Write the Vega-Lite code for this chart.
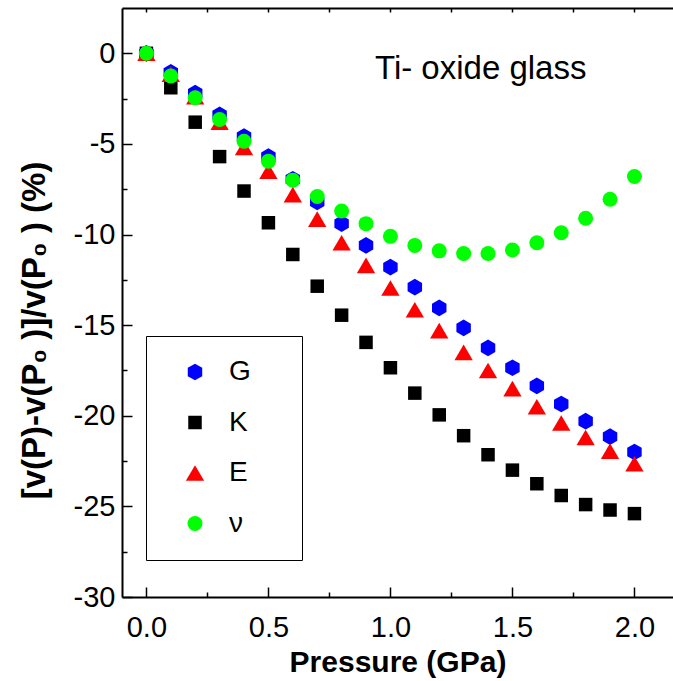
{
  "$schema": "https://vega.github.io/schema/vega-lite/v6.json",
  "autosize": "none",
  "width": 551,
  "height": 589,
  "padding": {"left": 122, "top": 8, "right": 0, "bottom": 84},
  "background": "white",
  "config": {
    "view": {"stroke": null},
    "font": "Liberation Sans",
    "axis": {
      "domainColor": "black",
      "domainWidth": 2,
      "tickColor": "black",
      "tickWidth": 1.5,
      "labelColor": "black",
      "labelFont": "Liberation Sans",
      "labelFontSize": 29,
      "titleColor": "black",
      "titleFont": "Liberation Sans",
      "titleFontSize": 30,
      "titleFontWeight": "bold",
      "grid": false
    }
  },
  "data": {
    "values": [
      {"p": 0.0, "v": 0.0, "s": "K"}, {"p": 0.1, "v": -1.9, "s": "K"}, {"p": 0.2, "v": -3.8, "s": "K"},
      {"p": 0.3, "v": -5.7, "s": "K"}, {"p": 0.4, "v": -7.6, "s": "K"}, {"p": 0.5, "v": -9.35, "s": "K"},
      {"p": 0.6, "v": -11.1, "s": "K"}, {"p": 0.7, "v": -12.85, "s": "K"}, {"p": 0.8, "v": -14.45, "s": "K"},
      {"p": 0.9, "v": -15.95, "s": "K"}, {"p": 1.0, "v": -17.35, "s": "K"}, {"p": 1.1, "v": -18.75, "s": "K"},
      {"p": 1.2, "v": -19.95, "s": "K"}, {"p": 1.3, "v": -21.1, "s": "K"}, {"p": 1.4, "v": -22.15, "s": "K"},
      {"p": 1.5, "v": -23.0, "s": "K"}, {"p": 1.6, "v": -23.75, "s": "K"}, {"p": 1.7, "v": -24.4, "s": "K"},
      {"p": 1.8, "v": -24.9, "s": "K"}, {"p": 1.9, "v": -25.2, "s": "K"}, {"p": 2.0, "v": -25.4, "s": "K"},
      {"p": 0.0, "v": 0.0, "s": "G"}, {"p": 0.1, "v": -1.05, "s": "G"}, {"p": 0.2, "v": -2.2, "s": "G"},
      {"p": 0.3, "v": -3.4, "s": "G"}, {"p": 0.4, "v": -4.6, "s": "G"}, {"p": 0.5, "v": -5.7, "s": "G"},
      {"p": 0.6, "v": -6.95, "s": "G"}, {"p": 0.7, "v": -8.2, "s": "G"}, {"p": 0.8, "v": -9.4, "s": "G"},
      {"p": 0.9, "v": -10.6, "s": "G"}, {"p": 1.0, "v": -11.8, "s": "G"}, {"p": 1.1, "v": -12.9, "s": "G"},
      {"p": 1.2, "v": -14.05, "s": "G"}, {"p": 1.3, "v": -15.15, "s": "G"}, {"p": 1.4, "v": -16.25, "s": "G"},
      {"p": 1.5, "v": -17.35, "s": "G"}, {"p": 1.6, "v": -18.35, "s": "G"}, {"p": 1.7, "v": -19.35, "s": "G"},
      {"p": 1.8, "v": -20.3, "s": "G"}, {"p": 1.9, "v": -21.15, "s": "G"}, {"p": 2.0, "v": -22.0, "s": "G"},
      {"p": 0.0, "v": 0.0, "s": "E"}, {"p": 0.1, "v": -1.15, "s": "E"}, {"p": 0.2, "v": -2.4, "s": "E"},
      {"p": 0.3, "v": -3.8, "s": "E"}, {"p": 0.4, "v": -5.2, "s": "E"}, {"p": 0.5, "v": -6.5, "s": "E"},
      {"p": 0.6, "v": -7.8, "s": "E"}, {"p": 0.7, "v": -9.15, "s": "E"}, {"p": 0.8, "v": -10.45, "s": "E"},
      {"p": 0.9, "v": -11.7, "s": "E"}, {"p": 1.0, "v": -12.95, "s": "E"}, {"p": 1.1, "v": -14.15, "s": "E"},
      {"p": 1.2, "v": -15.3, "s": "E"}, {"p": 1.3, "v": -16.5, "s": "E"}, {"p": 1.4, "v": -17.5, "s": "E"},
      {"p": 1.5, "v": -18.5, "s": "E"}, {"p": 1.6, "v": -19.5, "s": "E"}, {"p": 1.7, "v": -20.4, "s": "E"},
      {"p": 1.8, "v": -21.2, "s": "E"}, {"p": 1.9, "v": -21.95, "s": "E"}, {"p": 2.0, "v": -22.65, "s": "E"},
      {"p": 0.0, "v": 0.0, "s": "ν"}, {"p": 0.1, "v": -1.25, "s": "ν"}, {"p": 0.2, "v": -2.45, "s": "ν"},
      {"p": 0.3, "v": -3.65, "s": "ν"}, {"p": 0.4, "v": -4.85, "s": "ν"}, {"p": 0.5, "v": -5.95, "s": "ν"},
      {"p": 0.6, "v": -7.0, "s": "ν"}, {"p": 0.7, "v": -7.9, "s": "ν"}, {"p": 0.8, "v": -8.7, "s": "ν"},
      {"p": 0.9, "v": -9.4, "s": "ν"}, {"p": 1.0, "v": -10.1, "s": "ν"}, {"p": 1.1, "v": -10.6, "s": "ν"},
      {"p": 1.2, "v": -10.9, "s": "ν"}, {"p": 1.3, "v": -11.05, "s": "ν"}, {"p": 1.4, "v": -11.05, "s": "ν"},
      {"p": 1.5, "v": -10.85, "s": "ν"}, {"p": 1.6, "v": -10.45, "s": "ν"}, {"p": 1.7, "v": -9.9, "s": "ν"},
      {"p": 1.8, "v": -9.1, "s": "ν"}, {"p": 1.9, "v": -8.05, "s": "ν"}, {"p": 2.0, "v": -6.8, "s": "ν"}
    ]
  },
  "resolve": {"axis": {"x": "independent", "y": "independent"}},
  "layer": [
    {
      "mark": {"type": "point", "filled": true, "opacity": 1, "size": 225, "strokeWidth": 0},
      "encoding": {
        "x": {
          "field": "p", "type": "quantitative",
          "scale": {"domain": [-0.1, 2.158], "nice": false, "zero": false},
          "axis": {
            "orient": "bottom", "title": "Pressure (GPa)",
            "values": [0, 0.5, 1, 1.5, 2], "format": ".1f",
            "tickSize": -10, "labelPadding": 26, "titlePadding": 5
          }
        },
        "y": {
          "field": "v", "type": "quantitative",
          "scale": {"domain": [-30, 2.5], "nice": false, "zero": false},
          "axis": {
            "orient": "left", "title": "[v(P)-v(P₀ )]/v(P₀ ) (%)",
            "titleFontSize": 33, "titleY": 322,
            "values": [0, -5, -10, -15, -20, -25, -30],
            "labelExpr": "replace(datum.label, '−', '-')",
            "tickSize": -10, "labelPadding": 17, "titlePadding": 22
          }
        },
        "color": {
          "field": "s", "type": "nominal",
          "scale": {"domain": ["G", "K", "E", "ν"], "range": ["#0000ff", "#000000", "#ff0000", "#00ff00"]},
          "legend": {
            "title": null,
            "orient": "none", "legendX": 24, "legendY": 328,
            "strokeColor": "black", "padding": 22, "cornerRadius": 0,
            "symbolSize": 225, "symbolStrokeWidth": 0, "symbolOffset": 13,
            "labelFont": "Liberation Sans", "labelFontSize": 28, "labelColor": "black",
            "labelOffset": 20, "rowPadding": 22.5,
            "labelExpr": "datum.label + '\u00a0\u2800'"
          }
        },
        "shape": {
          "field": "s", "type": "nominal",
          "scale": {
            "domain": ["G", "K", "E", "ν"],
            "range": [
              "M0,-1.113L0.964,-0.557L0.964,0.557L0,1.113L-0.964,0.557L-0.964,-0.557Z",
              "M-0.9,-0.9L0.9,-0.9L0.9,0.9L-0.9,0.9Z",
              "M0,-1.04L1.22,1.04L-1.22,1.04Z",
              "circle"
            ]
          }
        }
      }
    },
    {
      "mark": {"type": "point", "opacity": 0},
      "encoding": {
        "x": {
          "field": "p", "type": "quantitative",
          "axis": {
            "orient": "bottom", "title": null, "labels": false, "domain": false,
            "values": [0.25, 0.75, 1.25, 1.75], "tickSize": -5
          }
        },
        "y": {
          "field": "v", "type": "quantitative",
          "axis": {
            "orient": "left", "title": null, "labels": false, "domain": false,
            "values": [-2.5, -7.5, -12.5, -17.5, -22.5, -27.5], "tickSize": -5
          }
        }
      }
    },
    {
      "mark": {"type": "point", "opacity": 0},
      "encoding": {
        "x": {
          "field": "p", "type": "quantitative",
          "axis": {
            "orient": "top", "title": null, "labels": false,
            "values": [0, 0.25, 0.5, 0.75, 1, 1.25, 1.5, 1.75, 2], "tickSize": -4
          }
        },
        "y": {"field": "v", "type": "quantitative", "axis": null}
      }
    },
    {
      "data": {"values": [{"p": 1.37, "v": -0.85, "t": "Ti- oxide glass"}]},
      "mark": {"type": "text", "font": "Liberation Sans", "fontSize": 33, "color": "black", "align": "center", "baseline": "middle"},
      "encoding": {
        "x": {"field": "p", "type": "quantitative", "axis": null},
        "y": {"field": "v", "type": "quantitative", "axis": null},
        "text": {"field": "t"}
      }
    }
  ]
}
